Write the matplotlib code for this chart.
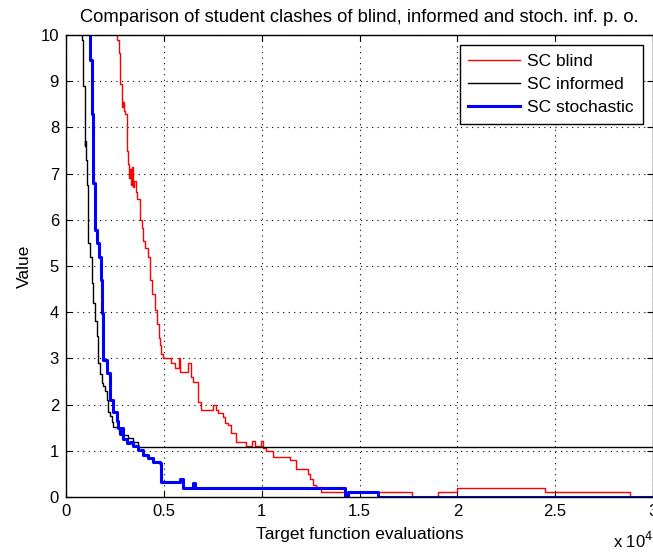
import matplotlib
matplotlib.use("Agg")
import matplotlib.pyplot as plt
from matplotlib.ticker import FuncFormatter

plt.rcParams['font.family'] = ['Liberation Sans', 'DejaVu Sans']

# SC blind (red)
blind_x = [2400, 2620, 2700, 2755, 2840, 2880, 2920, 2960, 3010, 3100, 3180, 3240, 3280, 3310,
           3360, 3400, 3450, 3570, 3650, 3775, 3890, 3960, 4030, 4200, 4285, 4390, 4540, 4650,
           4745, 4800, 4880, 4965, 5390, 5560, 5780, 5840, 6240, 6400, 6500, 6750, 6920, 7515,
           7690, 7770, 8025, 8110, 8280, 8450, 8700, 9180, 9500, 9640, 9985, 10070, 10240, 10580,
           11430, 11770, 12360, 12450, 12620, 12790, 13050, 17670, 19030, 20000, 24470, 28830, 30000]
blind_y = [10.4, 9.9, 9.6, 8.95, 8.6, 8.45, 8.55, 8.35, 8.3, 7.5, 7.2, 6.9, 7.1, 6.75,
           7.15, 6.7, 6.85, 6.6, 6.45, 6.0, 5.82, 5.55, 5.4, 5.2, 4.7, 4.4, 4.05, 3.75,
           3.45, 3.3, 3.1, 3.0, 2.89, 2.79, 3.0, 2.71, 2.89, 2.6, 2.5, 2.06, 1.88, 2.0,
           1.88, 1.81, 1.74, 1.6, 1.55, 1.38, 1.2, 1.1, 1.22, 1.1, 1.22, 1.05, 1.0, 0.87,
           0.8, 0.6, 0.5, 0.38, 0.26, 0.22, 0.11, 0.0, 0.1, 0.19, 0.1, 0.0, 0.0]

# SC informed (black)
informed_x = [650, 750, 830, 885, 950, 970, 1000, 1085, 1140, 1225, 1310, 1390, 1480, 1565, 1650,
              1735, 1820, 1905, 1990, 2075, 2160, 2245, 2330, 2415, 2700, 2855, 3180, 3435, 3690, 30000]
informed_y = [10.4, 10.1, 9.9, 8.9, 7.6, 7.7, 7.3, 6.75, 5.5, 5.2, 4.63, 4.2, 3.8, 3.48, 2.9,
              2.67, 2.46, 2.4, 2.3, 2.1, 1.83, 1.75, 1.63, 1.52, 1.4, 1.34, 1.27, 1.2, 1.09, 1.09]

# SC stochastic (blue)
stoch_x = [1000, 1225, 1310, 1390, 1480, 1600, 1685, 1770, 1820, 1905, 2075, 2245, 2415, 2585,
           2670, 2755, 2840, 2925, 3095, 3260, 3435, 3690, 3945, 4200, 4455, 4800, 4880, 5815,
           5985, 6495, 6580, 14235, 14400, 15935, 30000]
stoch_y = [10.5, 9.45, 8.3, 6.8, 5.78, 5.5, 5.2, 4.7, 3.98, 2.97, 2.68, 2.1, 1.83, 1.65,
           1.5, 1.36, 1.5, 1.25, 1.17, 1.2, 1.1, 1.02, 0.91, 0.84, 0.76, 0.73, 0.33, 0.38,
           0.19, 0.3, 0.19, 0.0, 0.11, 0.0, 0.0]

x_ticks = [0, 5000, 10000, 15000, 20000, 25000, 30000]
y_ticks = list(range(0, 11))

fig = plt.figure(figsize=(6.53, 5.53), dpi=100)
ax = fig.add_axes([66/653, 1-497/553, 1-66/653, (497-35)/553])

ax.plot(blind_x, blind_y, color='red', lw=1.0, drawstyle='steps-post', label='SC blind')
ax.plot(informed_x, informed_y, color='black', lw=1.0, drawstyle='steps-post', label='SC informed')
ax.plot(stoch_x, stoch_y, color='blue', lw=2.2, drawstyle='steps-post', label='SC stochastic')

ax.set_xlim(0, 30000)
ax.set_ylim(0, 10)
ax.set_xticks(x_ticks)
ax.set_yticks(y_ticks)
ax.xaxis.set_major_formatter(FuncFormatter(lambda v, p: ('%g' % (v / 1e4))))
ax.tick_params(direction='in', top=True, right=True, length=4, labelsize=12, pad=5)
ax.grid(True, color='black', linestyle=(0, (1, 4)), linewidth=0.8)
for s in ax.spines.values():
    s.set_linewidth(1.0)

ax.set_title('Comparison of student clashes of blind, informed and stoch. inf. p. o.',
             fontsize=13.2, pad=9)
ax.set_xlabel('Target function evaluations', fontsize=12.5, labelpad=6)
ax.set_ylabel('Value', fontsize=12.5, labelpad=6)
fig.text(0.938, 0.004, r'x 10$^4$', fontsize=12, ha='left', va='bottom')

leg = ax.legend(loc='upper right', fontsize=12.5, fancybox=False, edgecolor='black',
                framealpha=1, borderaxespad=0.6, handlelength=3.0, handletextpad=0.4,
                labelspacing=0.45, borderpad=0.5)
leg.get_frame().set_linewidth(1.0)

fig.savefig('out.png', dpi=100)
